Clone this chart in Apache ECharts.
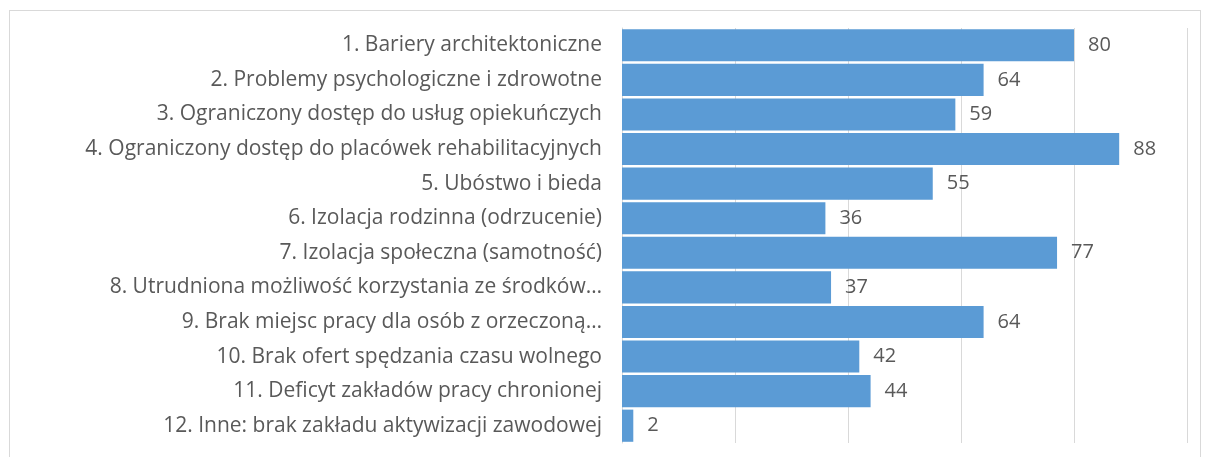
<!DOCTYPE html>
<html lang="pl">
<head>
    <meta charset="UTF-8">
    <title>Bariery</title>
    <script src="https://cdn.jsdelivr.net/npm/echarts@6/dist/echarts.min.js"></script>
    <style>
        html, body { margin: 0; padding: 0; background: #fff; }
        #frame { position: absolute; left: 9px; top: 10px; width: 1190px; height: 450px; border: 1px solid #d9d9d9; }
        #main { position: absolute; left: 0; top: 0; width: 1208px; height: 457px; }
    </style>
</head>
<body>
<div id="frame"></div>
<div id="main"></div>
<script type="text/javascript">
    // kategorie i wartości
    var categories = [
        '1. Bariery architektoniczne',
        '2. Problemy psychologiczne i zdrowotne',
        '3. Ograniczony dostęp do usług opiekuńczych',
        '4. Ograniczony dostęp do placówek rehabilitacyjnych',
        '5. Ubóstwo i bieda',
        '6. Izolacja rodzinna (odrzucenie)',
        '7. Izolacja społeczna (samotność)',
        '8. Utrudniona możliwość korzystania ze środków…',
        '9. Brak miejsc pracy dla osób z orzeczoną…',
        '10. Brak ofert spędzania czasu wolnego',
        '11. Deficyt zakładów pracy chronionej',
        '12. Inne: brak zakładu aktywizacji zawodowej'
    ];
    var values = [80, 64, 59, 88, 55, 36, 77, 37, 64, 42, 44, 2];

    var myChart = echarts.init(document.getElementById('main'));
    var font = 'Open Sans';

    myChart.setOption({
        animation: false,
        grid: { left: 622, right: 21, top: 28, bottom: 14 },
        xAxis: {
            type: 'value',
            min: 0,
            max: 100,
            interval: 20,
            axisLabel: { show: false },
            axisLine: { show: false },
            axisTick: { show: false },
            splitLine: { lineStyle: { color: '#d9d9d9', width: 1 } }
        },
        yAxis: {
            type: 'category',
            inverse: true,
            data: categories,
            axisTick: { show: false },
            axisLine: { show: true, lineStyle: { color: '#d9d9d9' } },
            axisLabel: { color: '#595959', fontFamily: font, fontSize: 21, margin: 20 }
        },
        series: [{
            type: 'bar',
            data: values,
            barCategoryGap: '7%',
            itemStyle: { color: '#5b9bd5' },
            label: {
                show: true,
                position: 'right',
                distance: 14,
                color: '#595959',
                fontFamily: font,
                fontSize: 20
            }
        }]
    });
</script>
</body>
</html>
